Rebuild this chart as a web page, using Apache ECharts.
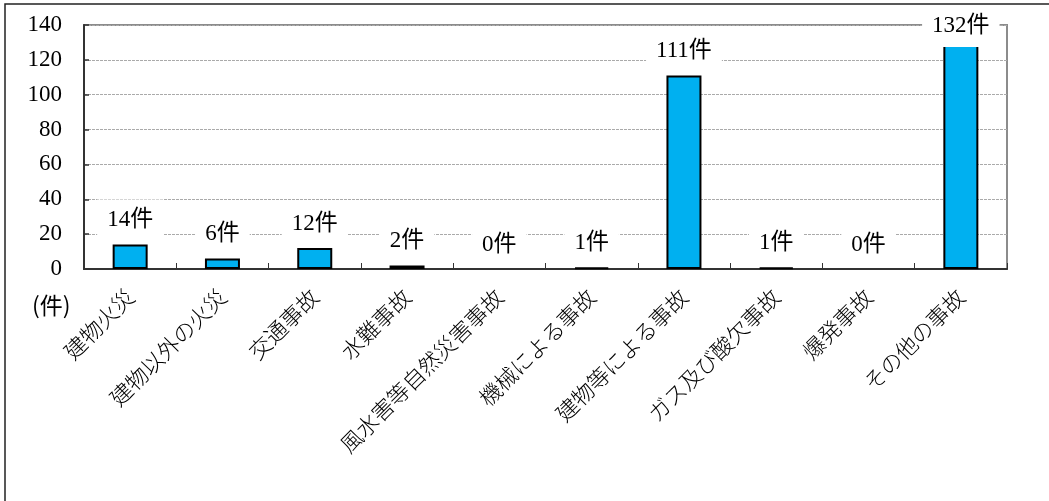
<!DOCTYPE html>
<html>
<head>
<meta charset="utf-8">
<script src="https://cdn.jsdelivr.net/npm/echarts@6/dist/echarts.min.js"></script>
<style>
  html, body { margin: 0; padding: 0; background: #fff; }
  #chart { width: 1049px; height: 501px; }
</style>
</head>
<body>
<div id="chart"></div>
<script>
// 事故種別ごとの件数
const categories = ['建物火災', '建物以外の火災', '交通事故', '水難事故', '風水害等自然災害事故',
  '機械による事故', '建物等による事故', 'ガス及び酸欠事故', '爆発事故', 'その他の事故'];
const counts = [14, 6, 12, 2, 0, 1, 111, 1, 0, 132];
const yTicks = { min: 0, max: 140, interval: 20 };
const unitLabel = '(件)';

const serif = "'Liberation Serif', 'Noto Sans CJK JP', serif";
const jp = "'Noto Sans CJK JP', sans-serif";

const chart = echarts.init(document.getElementById('chart'), null, { renderer: 'canvas' });

// a label that would rise above the plot top is held just inside it
const labelFor = v => (v > yTicks.max - 12 ? { distance: -8 } : {});

chart.setOption({
  animation: false,
  backgroundColor: '#fff',
  grid: {
    left: 84, right: 42, top: 25, bottom: 232,
    show: true, borderColor: '#8c8c8c', borderWidth: 2, backgroundColor: 'transparent'
  },
  xAxis: {
    type: 'category',
    data: categories,
    axisLine: { show: true, lineStyle: { color: '#333', width: 2 } },
    axisTick: { show: true, inside: true, length: 6, alignWithLabel: false, lineStyle: { color: '#333', width: 1 } },
    axisLabel: {
      rotate: 45, margin: 24, interval: 0,
      fontSize: 22, color: '#000', fontFamily: jp, fontWeight: 300
    }
  },
  yAxis: {
    type: 'value',
    min: yTicks.min, max: yTicks.max, interval: yTicks.interval,
    axisLine: { show: true, lineStyle: { color: '#333', width: 2 } },
    axisTick: { show: true, inside: true, length: 5, lineStyle: { color: '#333', width: 1.5 } },
    axisLabel: { fontSize: 23, color: '#000', fontFamily: serif, margin: 22 },
    splitLine: { show: true, lineStyle: { color: '#aaa', type: [3, 1], width: 1 } }
  },
  series: [{
    type: 'bar',
    barWidth: 35,
    data: counts.map(v => ({
      value: v,
      itemStyle: { borderWidth: v === 0 ? 0 : 2 },
      label: labelFor(v)
    })),
    itemStyle: { color: '#00b0f0', borderColor: '#000', borderWidth: 2 },
    label: {
      show: true, position: 'top', distance: 4,
      formatter: p => p.value + '件',
      fontSize: 23, color: '#000', fontFamily: serif,
      backgroundColor: '#fff', padding: [9, 10]
    },
    z: 3
  }],
  graphic: [
    {
      type: 'rect', silent: true, z: -1,
      shape: { x: 5, y: 4, width: 1100, height: 600 },
      style: { fill: 'transparent', stroke: '#222', lineWidth: 1.5 }
    },
    {
      type: 'text', left: 32, top: 294,
      style: { text: unitLabel, fill: '#000', font: "23px 'Noto Sans CJK JP'" }
    }
  ]
});
</script>
</body>
</html>
